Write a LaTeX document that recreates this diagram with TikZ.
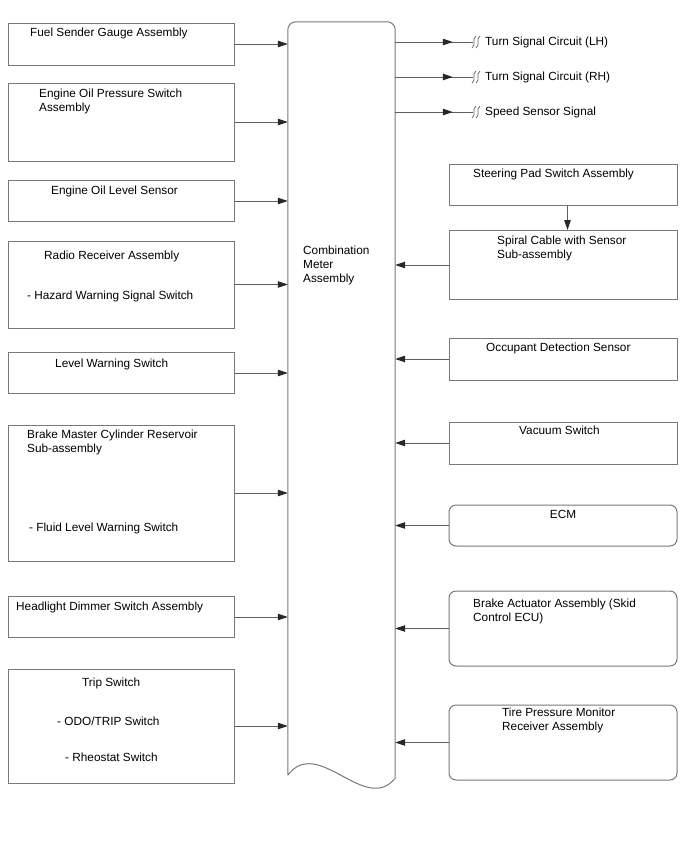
\documentclass[tikz,border=0pt]{standalone}
\usepackage{fontspec}
\setmainfont{Liberation Sans}
\usetikzlibrary{arrows.meta, calc, decorations.markings}

\definecolor{edgegray}{RGB}{120,120,120}
\definecolor{wiregray}{RGB}{95,95,95}
\definecolor{tipgray}{RGB}{40,40,40}

\begin{document}
\begin{tikzpicture}[
    x=1pt, y=-1pt,
    >={Triangle[length=10pt,width=6.5pt,color=tipgray]},
    part/.style={draw=edgegray, line width=1pt, rectangle, inner sep=0pt, minimum height=#1},
    lpart/.style={part=#1, minimum width=226},
    rpart/.style={part=#1, minimum width=228},
    ecu/.style={rpart=#1, rounded corners=7pt},
    lbl/.style={anchor=base west, inner sep=0pt, align=left, font=\fontsize{11.8}{14}\selectfont},
    wire/.style={draw=wiregray, line width=1pt},
    sig/.style={wire, decoration={markings, mark=at position 0.74 with {\arrow{>}}}, postaction={decorate}}
]

\useasboundingbox (0,0) rectangle (688,852);

% -------------------------
% Combination Meter (Center)
% -------------------------
\node[minimum width=107, minimum height=756, inner sep=0pt] (meter) at (341.5,400) {};
\draw[wire, draw=edgegray] ([yshift=3pt]meter.south west)
    [rounded corners=8pt] -- (meter.north west) -- (meter.north east)
    [sharp corners] -- (meter.south east)
    .. controls ([xshift=-30pt,yshift=-37pt]meter.south east) and ([xshift=30pt,yshift=43pt]meter.south west) .. ([yshift=3pt]meter.south west);
\node[lbl] (meterT) at (303,282) {Combination\\Meter\\Assembly};

% -------------------------
% Left Inputs
% -------------------------
\node[lpart=42] (fuel) at (121,44) {};
\node[lbl] (fuelT) at (30,36) {Fuel Sender Gauge Assembly};

\node[lpart=78] (oilp) at (121,122) {};
\node[lbl] (oilpT) at (39,111) {Engine Oil Pressure Switch\\Assembly};

\node[lpart=41] (oill) at (121,201) {};
\node[lbl] (oillT) at (51,194) {Engine Oil Level Sensor};

\node[lpart=87] (radio) at (121,284.5) {};
\node[lbl] (radioT) at (44,259) {Radio Receiver Assembly};
\node[lbl] (hazardT) at (27,299) {- Hazard Warning Signal Switch};

\node[lpart=41.5] (level) at (121,373) {};
\node[lbl] (levelT) at (55,367) {Level Warning Switch};

\node[lpart=136] (bmc) at (121,493) {};
\node[lbl] (bmcT) at (27,452) {Brake Master Cylinder Reservoir\\Sub-assembly};
\node[lbl] (fluidT) at (29,531) {- Fluid Level Warning Switch};

\node[lpart=41] (hdl) at (121,617) {};
\node[lbl] (hdlT) at (16,610) {Headlight Dimmer Switch Assembly};

\node[lpart=114] (trip) at (121,726) {};
\node[lbl] (tripT) at (82,686) {Trip Switch};
\node[lbl] (odoT) at (57,725) {- ODO/TRIP Switch};
\node[lbl] (rheoT) at (65,761) {- Rheostat Switch};

% -------------------------
% Right Outputs
% -------------------------
\coordinate (lh) at (473,42);
\coordinate (rh) at (473,77);
\coordinate (spd) at (473,112);
\node[lbl] (lhT) at (485,45) {Turn Signal Circuit (LH)};
\node[lbl] (rhT) at (485,80) {Turn Signal Circuit (RH)};
\node[lbl] (spdT) at (485,115) {Speed Sensor Signal};

% -------------------------
% Right Inputs
% -------------------------
\node[rpart=41] (steer) at (563,184.5) {};
\node[lbl] (steerT) at (473,177) {Steering Pad Switch Assembly};

\node[rpart=69] (spiral) at (563,265) {};
\node[lbl] (spiralT) at (497,258) {Spiral Cable with Sensor\\Sub-assembly};

\node[rpart=42] (occ) at (563,359) {};
\node[lbl] (occT) at (486,351) {Occupant Detection Sensor};

\node[rpart=42] (vac) at (563,443) {};
\node[lbl] (vacT) at (519,434) {Vacuum Switch};

\node[ecu=41] (ecm) at (563,525.5) {};
\node[lbl, anchor=base] (ecmT) at (563,518) {ECM};

\node[ecu=75] (bact) at (563,628.5) {};
\node[lbl] (bactT) at (473,621) {Brake Actuator Assembly (Skid\\Control ECU)};

\node[ecu=75] (tpm) at (563,742.5) {};
\node[lbl] (tpmT) at (502,730) {Tire Pressure Monitor\\Receiver Assembly};

% -------------------------
% Connections
% -------------------------

% Left inputs -> Meter
\draw[wire, ->] (fuel.east) -- (fuel.east -| meter.west);
\draw[wire, ->] (oilp.east) -- (oilp.east -| meter.west);
\draw[wire, ->] (oill.east) -- (oill.east -| meter.west);
\draw[wire, ->] (radio.east) -- (radio.east -| meter.west);
\draw[wire, ->] (level.east) -- (level.east -| meter.west);
\draw[wire, ->] (bmc.east) -- (bmc.east -| meter.west);
\draw[wire, ->] (hdl.east) -- (hdl.east -| meter.west);
\draw[wire, ->] (trip.east) -- (trip.east -| meter.west);

% Meter -> outputs (broken lines)
\draw[sig] (lh -| meter.east) -- (lh);
\draw[sig] (rh -| meter.east) -- (rh);
\draw[sig] (spd -| meter.east) -- (spd);
\foreach \s in {lh,rh,spd}
    \foreach \d in {1,5}
        \draw[wire, line width=0.7pt] ($(\s)+(\d+2,-6)$) .. controls ($(\s)+(\d-3,-2)$) and ($(\s)+(\d+3,2)$) .. ($(\s)+(\d-2,6)$);

% Steering Pad -> Spiral Cable
\draw[wire, ->] ([xshift=4.5pt]steer.south) -- ([xshift=4.5pt]spiral.north);

% Right inputs -> Meter
\draw[wire, ->] (spiral.west) -- (spiral.west -| meter.east);
\draw[wire, ->] (occ.west) -- (occ.west -| meter.east);
\draw[wire, ->] (vac.west) -- (vac.west -| meter.east);
\draw[wire, ->] (ecm.west) -- (ecm.west -| meter.east);
\draw[wire, ->] (bact.west) -- (bact.west -| meter.east);
\draw[wire, ->] (tpm.west) -- (tpm.west -| meter.east);

\end{tikzpicture}
\end{document}
